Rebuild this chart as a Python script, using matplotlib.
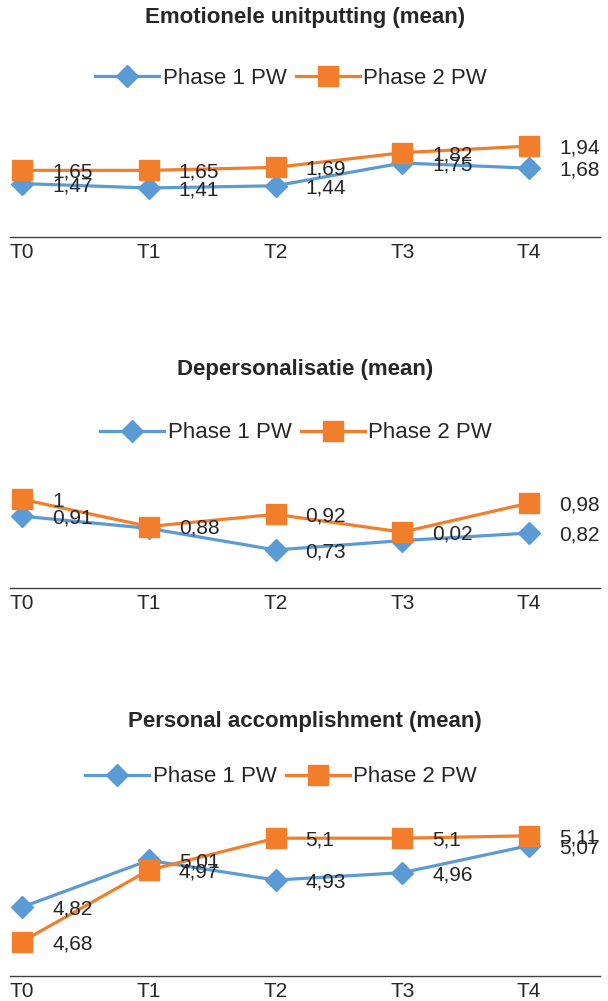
import matplotlib
matplotlib.use('Agg')
import matplotlib.pyplot as plt
from matplotlib.lines import Line2D

plt.rcParams['font.family'] = ['Liberation Sans', 'DejaVu Sans']

categories = ['T0', 'T1', 'T2', 'T3', 'T4']
series_names = ['Phase 1 PW', 'Phase 2 PW']

titles = ['Emotionele unitputting (mean)',
          'Depersonalisatie (mean)',
          'Personal accomplishment (mean)']

# Emotionele uitputting
ee_phase1 = [1.47, 1.41, 1.44, 1.75, 1.68]
ee_phase2 = [1.65, 1.65, 1.69, 1.89, 1.98]
ee_labels1 = ['1,47', '1,41', '1,44', '1,75', '1,68']
ee_labels2 = ['1,65', '1,65', '1,69', '1,82', '1,94']

# Depersonalisatie
dp_phase1 = [0.91, 0.845, 0.73, 0.78, 0.82]
dp_phase2 = [1.00, 0.855, 0.92, 0.825, 0.98]
dp_labels1 = ['0,91', '', '0,73', '', '0,82']
dp_labels2 = ['1', '0,88', '0,92', '0,02', '0,98']

# Personal accomplishment
pa_phase1 = [4.82, 5.01, 4.93, 4.96, 5.07]
pa_phase2 = [4.68, 4.97, 5.10, 5.10, 5.11]
pa_labels1 = ['4,82', '5,01', '4,93', '4,96', '5,07']
pa_labels2 = ['4,68', '4,97', '5,1', '5,1', '5,11']

panels = [
    (titles[0], ee_phase1, ee_phase2, ee_labels1, ee_labels2),
    (titles[1], dp_phase1, dp_phase2, dp_labels1, dp_labels2),
    (titles[2], pa_phase1, pa_phase2, pa_labels1, pa_labels2),
]

# layout (pixels from top of figure)
W, H = 608, 1001
layout = [
    # axis bottom px, axis top px, ylim, title y, legend y, legend x
    dict(bot=237, top=130, ylim=(0.743, 2.199), ty=17, ly=78, lx=291),
    dict(bot=588, top=480, ylim=(0.527, 1.103), ty=369, ly=433, lx=296),
    dict(bot=976, top=820, ylim=(4.540, 5.174), ty=721, ly=777, lx=281),
]

BLUE = '#5B9BD5'
ORANGE = '#F27E2B'
TXT = '#262626'

fig = plt.figure(figsize=(W / 100, H / 100), dpi=100)

for (title, s1, s2, l1, l2), lay in zip(panels, layout):
    ax = fig.add_axes([10 / W, 1 - lay['bot'] / H, 590 / W, (lay['bot'] - lay['top']) / H])
    x = list(range(len(categories)))
    ax.plot(x, s1, color=BLUE, lw=2.3, marker='D', ms=11, mec=BLUE, clip_on=False, zorder=3)
    ax.plot(x, s2, color=ORANGE, lw=2.3, marker='s', ms=14.5, mec=ORANGE, clip_on=False, zorder=4)
    for xi, v, t in zip(x, s1, l1):
        if t:
            ax.annotate(t, (xi, v), xytext=(30, -2), textcoords='offset pixels',
                        ha='left', va='center', fontsize=15, color=TXT, zorder=5)
    for xi, v, t in zip(x, s2, l2):
        if t:
            ax.annotate(t, (xi, v), xytext=(30, -2), textcoords='offset pixels',
                        ha='left', va='center', fontsize=15, color=TXT, zorder=5)
    ax.set_xlim(-0.095, 4.56)
    ax.set_ylim(*lay['ylim'])
    ax.set_xticks(x)
    ax.set_xticklabels(categories, fontsize=15, color=TXT)
    ax.tick_params(axis='x', length=0, pad=4)
    ax.set_yticks([])
    for sp in ['left', 'right', 'top']:
        ax.spines[sp].set_visible(False)
    ax.spines['bottom'].set_color('#404040')
    ax.spines['bottom'].set_linewidth(1.0)
    ax.patch.set_alpha(0)

    fig.text(305 / W, 1 - lay['ty'] / H, title, ha='center', va='center',
             fontsize=16, fontweight='bold', color=TXT)

    handles = [Line2D([], [], color=BLUE, lw=2.3, marker='D', ms=11),
               Line2D([], [], color=ORANGE, lw=2.3, marker='s', ms=14.5)]
    fig.legend(handles, series_names, loc='center',
               bbox_to_anchor=(lay['lx'] / W, 1 - lay['ly'] / H),
               ncol=2, frameon=False, fontsize=16, handlelength=2.9,
               handletextpad=0.15, columnspacing=0.4, labelcolor=TXT)

fig.savefig('out.png', dpi=100)
